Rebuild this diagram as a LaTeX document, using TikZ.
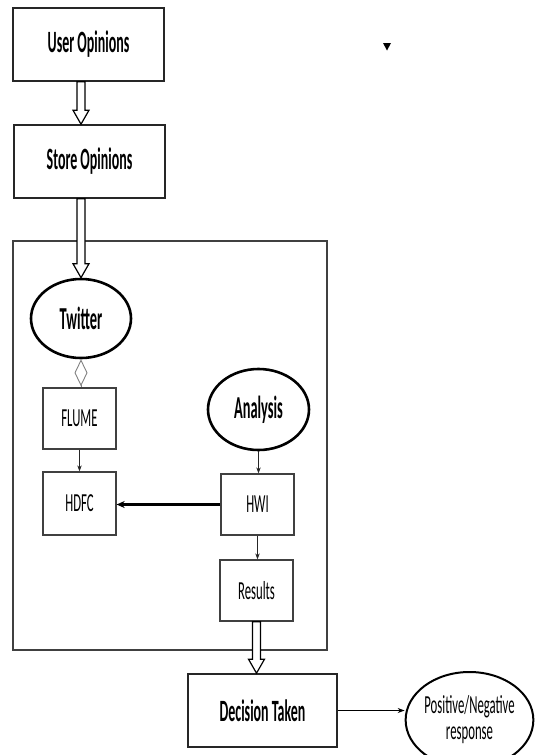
\documentclass[tikz,border=0pt]{standalone}
\usepackage{fontspec}
\usetikzlibrary{shapes.geometric,arrows.meta,calc}
\newfontfamily\labelbf[FakeStretch=0.45]{Carlito Bold}
\newfontfamily\labelrm[FakeStretch=0.49]{Carlito}
\tikzset{
  x=1pt, y=-1pt,
  mainbox/.style={draw=black!85, line width=1.6pt, rectangle, inner sep=0pt,
    minimum width=151pt, minimum height=73pt, font=\labelbf\fontsize{31}{33}\selectfont},
  smallbox/.style={draw=black!75, line width=1.3pt, rectangle, inner sep=0pt,
    minimum width=73pt, minimum height=61pt, font=\labelrm\fontsize{26}{28}\selectfont},
  oval/.style={draw=black, line width=2.6pt, ellipse, inner sep=0pt,
    font=\labelbf\fontsize{32}{34}\selectfont},
  frame/.style={draw=black!75, line width=1.5pt, rectangle, inner sep=0pt},
  thin/.style={draw=black!85, line width=0.9pt, -{Stealth[length=6pt,width=4.5pt]}},
  hollow/.style={draw=black, line width=1.2pt, fill=white, to path={
    let \p1=(\tikztostart), \p2=(\tikztotarget) in
    (\x1-4pt,\y1) -- (\x1-4pt,\y2+14pt) -- (\x1-8pt,\y2+14pt) -- (\x1,\y2)
    -- (\x1+8pt,\y2+14pt) -- (\x1+4pt,\y2+14pt) -- (\x1+4pt,\y1) -- cycle}},
}
\begin{document}
\begin{tikzpicture}
\useasboundingbox (0,0) rectangle (538,755);
\clip (0,0) rectangle (538,755);

% outer processing frame
\node[frame, minimum width=314pt, minimum height=409pt] (sys) at (170,445.5) {};

% top chain
\node[mainbox] (uo) at (88.5,44.5) {User Opinions};
\node[mainbox] (so) at (89.5,161.5) {Store Opinions};

% inside the frame
\node[oval, minimum width=100pt, minimum height=79pt] (tw) at (81,318.5) {Twitter};
\node[smallbox] (fl) at (79.5,418.5) {FLUME};
\node[smallbox, minimum height=63pt] (hd) at (79.5,503.5) {HDFC};
\node[oval, minimum width=101pt, minimum height=81pt] (an) at (258.5,409.5) {Analysis};
\node[smallbox] (hw) at (257.5,504.5) {HWI};
\node[smallbox] (rs) at (256.5,590.5) {Results};

% outcome
\node[mainbox, minimum width=149pt] (dec) at (262.5,710.5) {Decision Taken};
\node[draw=black, line width=2pt, ellipse, inner sep=0pt, minimum width=126pt,
  minimum height=96pt, align=center, font=\labelrm\fontsize{26}{26}\selectfont]
  (pn) at (469.5,720) {Positive/Negative\\response};

% stray marker
\fill (383,43) -- (391,43) -- (387,50.5) -- cycle;

% hollow block arrows
\path[hollow] (uo.south -| tw.center) to (so.north -| tw.center);
\path[hollow] (so.south -| tw.center) to (tw.north);
\path[hollow] (rs.south) to (rs.south |- dec.north);

% connectors
\draw[gray, line width=0.9pt, {Diamond[open,length=27pt,width=13pt]}-] (tw.south) -- (tw.south |- fl.north);
\draw[thin] (fl.south) -- (fl.south |- hd.north);
\draw[thin] (an.south) -- (an.south |- hw.north);
\draw[thin] (hw.south) -- (hw.south |- rs.north);
\draw[draw=black, line width=2.4pt, -{Stealth[length=8pt,width=7pt]}] (hw.west) -- (hw.west -| hd.east);
\draw[draw=black, line width=1.3pt, -{Stealth[length=7pt,width=5pt]}] (dec.east) -- (dec.east -| pn.west);
\end{tikzpicture}
\end{document}
